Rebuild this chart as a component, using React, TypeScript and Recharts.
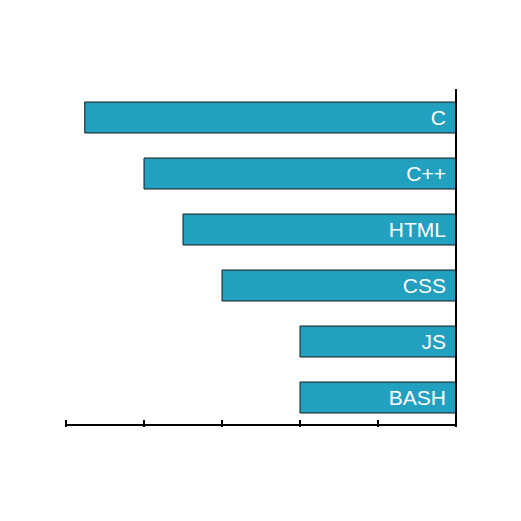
import { BarChart, Bar, XAxis, YAxis, LabelList } from "recharts"

const languages = ["C", "C++", "HTML", "CSS", "JS", "BASH"]
const levels = [4.76, 4, 3.5, 3, 2, 2]
const xTicks = [0, 1, 2, 3, 4, 5]

const data = languages.map((name, i) => ({ name, value: levels[i] }))

const Tick = (props: any) => {
  const { x, y } = props
  return <line x1={x} x2={x} y1={y - 7} y2={y} stroke="#000" strokeWidth={2} />
}

export default function App() {
  return (
    <BarChart
      width={521}
      height={521}
      data={data}
      layout="vertical"
      margin={{ top: 81, right: 63, bottom: 74, left: 58 }}
      style={{ fontFamily: "Liberation Sans, Arial, sans-serif" }}
    >
      <XAxis
        type="number"
        domain={[0, 5]}
        ticks={xTicks}
        reversed
        height={30}
        tickSize={0}
        tickLine={false}
        tick={<Tick />}
        axisLine={{ stroke: "#000", strokeWidth: 2 }}
        interval={0}
      />
      <YAxis
        type="category"
        dataKey="name"
        orientation="right"
        width={10}
        tick={false}
        tickLine={false}
        axisLine={{ stroke: "#000", strokeWidth: 2 }}
      />
      <Bar dataKey="value" fill="#22a0c0" stroke="#1a1a1a" strokeWidth={1} barSize={31} isAnimationActive={false}>
        <LabelList dataKey="name" position="insideLeft" offset={10} fill="#fff" fontSize={21} />
      </Bar>
    </BarChart>
  )
}
